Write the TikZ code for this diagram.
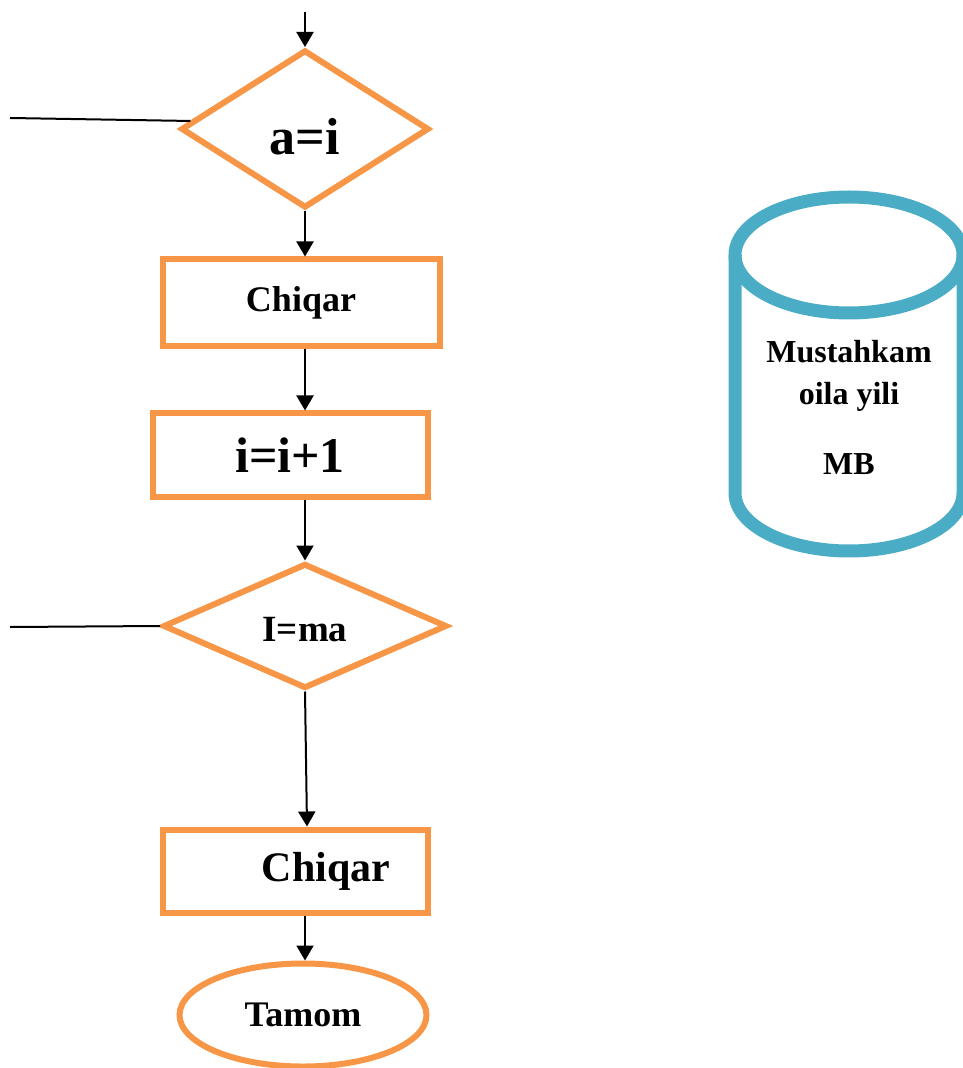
\documentclass[tikz,border=0pt]{standalone}
\usepackage{fontspec}
\setmainfont{Liberation Serif}
\usepackage{tikz}
\usetikzlibrary{shapes.geometric}
\usetikzlibrary{arrows.meta}
\usepackage{xcolor}
\definecolor{orng}{HTML}{F79646}
\definecolor{cylblue}{HTML}{4BACC6}

\begin{document}
\begin{tikzpicture}[->,>={Triangle[length=7.5pt,width=8.5pt]},line width=1pt,x=0.5pt,y=-0.5pt]

\tikzstyle{every node}=[font=\bfseries,inner sep=0pt]
\tikzstyle{blok}=[draw=orng,line width=3pt,rectangle]
\tikzstyle{shart}=[draw=orng,line width=3pt,diamond]
\tikzstyle{oxiri}=[draw=orng,line width=3pt,ellipse]

\def\fs#1{\fontsize{#1}{#1}\selectfont}

\useasboundingbox (0,0) rectangle (962,1068);

% flowchart
\coordinate (start) at (305,12);
\coordinate (l1) at (10,118);
\coordinate (l2) at (10,627);

\node[shart,minimum width=124pt,minimum height=79pt,font=\bfseries\fs{26}] (ai) at (305,129) {\raisebox{-4pt}[\height][\depth]{a=i}};
\node[blok,minimum width=138.5pt,minimum height=43.5pt,font=\bfseries\fs{18}] (chiq1) at (301,303) {Chiqar};
\node[blok,minimum width=137.5pt,minimum height=41.5pt,font=\bfseries\fs{25}] (inc) at (290,455) {i=i+1};
\node[shart,minimum width=142pt,minimum height=62.5pt,font=\bfseries\fs{18.5}] (ima) at (305,626) {\raisebox{-2pt}[\height][\depth]{I=ma}};
\node[blok,minimum width=132.5pt,minimum height=41.5pt,font=\bfseries\fs{21}] (chiq2) at (295,871) {\hspace*{31pt}Chiqar};
\node[oxiri,minimum width=123.5pt,minimum height=51.5pt,font=\bfseries\fs{18}] (tamom) at (303,1015) {Tamom};

\draw (start) -- (ai.north);
\draw (ai.south) -- (ai.south |- chiq1.north);
\draw (ai.south |- chiq1.south) -- (ai.south |- inc.north);
\draw (ai.south |- inc.south) -- (ima.north);
\draw (ima.south) -- ([xshift=6pt]chiq2.north);
\draw (ima.south |- chiq2.south) -- (ima.south |- tamom.north);
\draw[-] (l1) -- (ai.176);
\draw[-] (l2) -- (ima.west);

% baza
\draw[-,cylblue,line width=6.5pt] (849,255) ellipse [x radius=57pt,y radius=29pt];
\draw[-,cylblue,line width=6.5pt] (735,255) -- (735,493) arc[start angle=180,end angle=360,x radius=57pt,y radius=29pt] -- (963,255);
\node[align=center,font=\bfseries\fontsize{16}{21}\selectfont] (mb) at (849,407) {Mustahkam\\oila yili\\[14pt]MB};
\end{tikzpicture}
\end{document}
